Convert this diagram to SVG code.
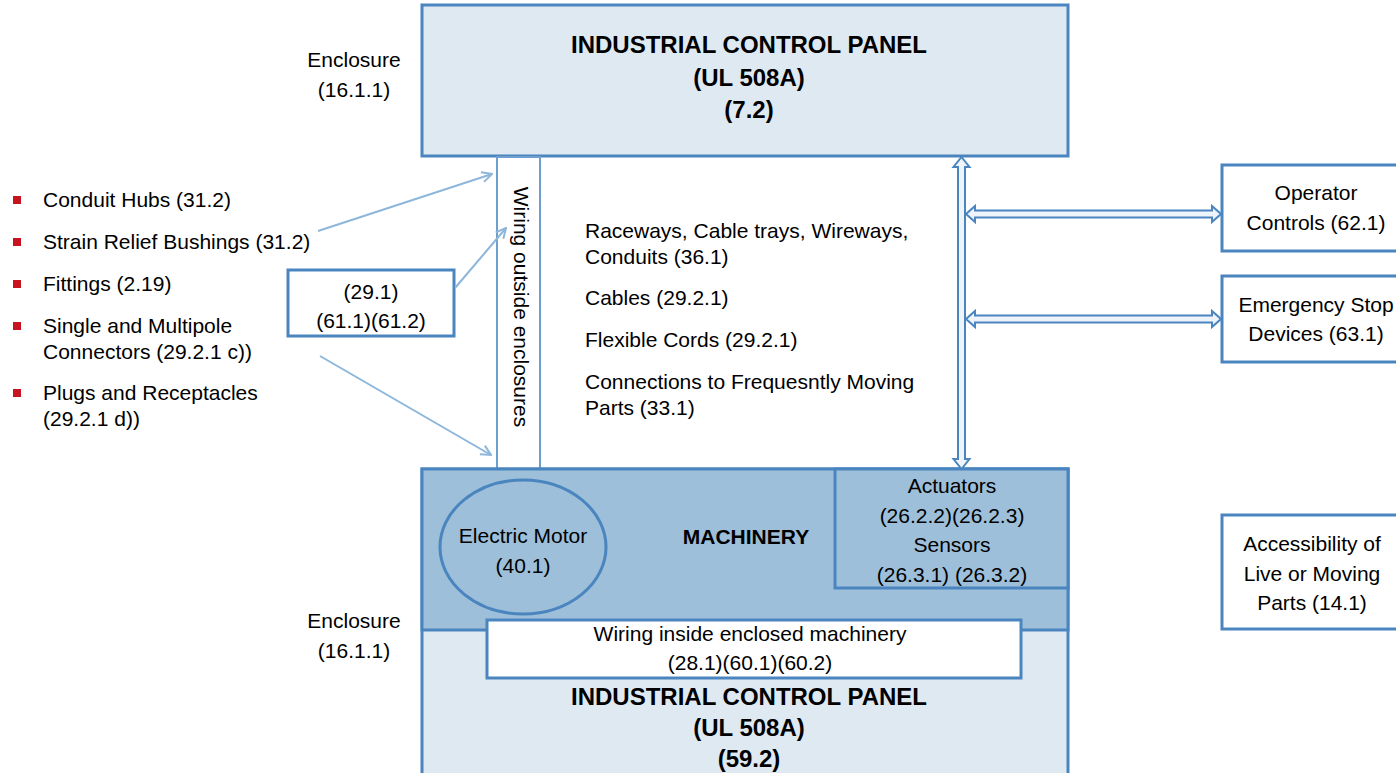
<svg xmlns="http://www.w3.org/2000/svg" width="1396" height="773" viewBox="0 0 1396 773">
<defs>
<style>
text{font-family:"Liberation Sans",Arial,sans-serif;fill:#000;}
.t{font-size:21px;}
.c{text-anchor:middle;}
.b{font-weight:bold;font-size:24px;}
.mb{font-weight:bold;font-size:21px;}
.box{stroke:#4a85bf;stroke-width:3;}
.thin{stroke:#6f9fcf;stroke-width:2;fill:none;}
.arr{stroke:#8db6db;stroke-width:2;fill:none;}
.dbl{fill:#eef4fa;stroke:#4a85bf;stroke-width:2;}
</style>
<marker id="ah" viewBox="0 0 12 12" refX="11" refY="6" markerWidth="12" markerHeight="12" markerUnits="userSpaceOnUse" orient="auto">
<path d="M1,1 L11,6 L1,11" fill="none" stroke="#8db6db" stroke-width="2"/>
</marker>
</defs>
<rect width="1396" height="773" fill="#fff"/>

<g id="top-panel">
<rect x="422" y="5" width="646" height="151" fill="#dfe9f2" class="box"/>
<text class="b c" x="749" y="53">INDUSTRIAL CONTROL PANEL</text>
<text class="b c" x="749" y="86">(UL 508A)</text>
<text class="b c" x="749" y="118">(7.2)</text>
</g>

<g id="enclosure-top">
<text class="t c" x="354" y="67">Enclosure</text>
<text class="t c" x="354" y="97">(16.1.1)</text>
</g>

<g id="bullets">
<rect x="13" y="196" width="8" height="8" fill="#c8141e"/>
<text class="t" x="43" y="207">Conduit Hubs (31.2)</text>
<rect x="13" y="238" width="8" height="8" fill="#c8141e"/>
<text class="t" x="43" y="249">Strain Relief Bushings (31.2)</text>
<rect x="13" y="280" width="8" height="8" fill="#c8141e"/>
<text class="t" x="43" y="291">Fittings (2.19)</text>
<rect x="13" y="322" width="8" height="8" fill="#c8141e"/>
<text class="t" x="43" y="333">Single and Multipole</text>
<text class="t" x="43" y="359">Connectors (29.2.1 c))</text>
<rect x="13" y="389" width="8" height="8" fill="#c8141e"/>
<text class="t" x="43" y="400">Plugs and Receptacles</text>
<text class="t" x="43" y="426">(29.2.1 d))</text>
</g>

<g id="ref-box">
<rect x="288" y="270" width="166" height="66" fill="#fff" class="box"/>
<text class="t c" x="371" y="299">(29.1)</text>
<text class="t c" x="371" y="328">(61.1)(61.2)</text>
</g>

<g id="wiring-outside">
<rect x="497" y="157" width="43" height="312" fill="#fff" class="thin"/>
<text class="t c" transform="translate(514,307) rotate(90)" x="0" y="0">Wiring outside enclosures</text>
</g>

<g id="raceways">
<text class="t" x="585" y="238">Raceways, Cable trays, Wireways,</text>
<text class="t" x="585" y="264">Conduits (36.1)</text>
<text class="t" x="585" y="305">Cables (29.2.1)</text>
<text class="t" x="585" y="347">Flexible Cords (29.2.1)</text>
<text class="t" x="585" y="389">Connections to Frequesntly Moving</text>
<text class="t" x="585" y="415">Parts (33.1)</text>
</g>

<g id="bottom-panel">
<rect x="422" y="469" width="646" height="310" fill="#dfe9f2" class="box"/>
<rect x="422" y="469" width="646" height="161" fill="#9dbfd9" class="box"/>
<text class="b c" x="749" y="705">INDUSTRIAL CONTROL PANEL</text>
<text class="b c" x="749" y="736">(UL 508A)</text>
<text class="b c" x="749" y="767">(59.2)</text>
</g>

<g id="machinery">
<text class="mb c" x="746" y="544">MACHINERY</text>
</g>

<g id="motor">
<ellipse cx="523" cy="547" rx="83" ry="67" fill="#9dbfd9" class="box"/>
<text class="t c" x="523" y="543">Electric Motor</text>
<text class="t c" x="523" y="573">(40.1)</text>
</g>

<g id="actuators">
<rect x="835" y="469" width="233" height="119" fill="#9dbfd9" class="box"/>
<text class="t c" x="952" y="493">Actuators</text>
<text class="t c" x="952" y="523">(26.2.2)(26.2.3)</text>
<text class="t c" x="952" y="552">Sensors</text>
<text class="t c" x="952" y="582">(26.3.1) (26.3.2)</text>
</g>

<g id="wiring-inside">
<rect x="487" y="620" width="534" height="58" fill="#fff" class="box"/>
<text class="t c" x="750" y="641">Wiring inside enclosed machinery</text>
<text class="t c" x="750" y="670">(28.1)(60.1)(60.2)</text>
</g>

<g id="enclosure-bottom">
<text class="t c" x="354" y="628">Enclosure</text>
<text class="t c" x="354" y="658">(16.1.1)</text>
</g>

<g id="operator">
<rect x="1222" y="165" width="190" height="86" fill="#fff" class="box"/>
<text class="t c" x="1316" y="200">Operator</text>
<text class="t c" x="1316" y="230">Controls (62.1)</text>
</g>

<g id="estop">
<rect x="1222" y="276" width="190" height="86" fill="#fff" class="box"/>
<text class="t c" x="1316" y="312">Emergency Stop</text>
<text class="t c" x="1316" y="341">Devices (63.1)</text>
</g>

<g id="accessibility">
<rect x="1222" y="515" width="190" height="114" fill="#fff" class="box"/>
<text class="t c" x="1312" y="551">Accessibility of</text>
<text class="t c" x="1312" y="581">Live or Moving</text>
<text class="t c" x="1312" y="610">Parts (14.1)</text>
</g>

<g id="connectors">
<line class="arr" x1="318" y1="231" x2="492" y2="174" marker-end="url(#ah)"/>
<line class="arr" x1="455" y1="288" x2="506" y2="228" marker-end="url(#ah)"/>
<line class="arr" x1="320" y1="356" x2="491" y2="455" marker-end="url(#ah)"/>
<path class="dbl" d="M961.5,157 L969.5,167 L965,167 L965,459 L969.5,459 L961.5,469 L953.5,459 L958,459 L958,167 L953.5,167 Z"/>
<path class="dbl" d="M966,214 L975,206 L975,210.5 L1212,210.5 L1212,206 L1221,214 L1212,222 L1212,217.5 L975,217.5 L975,222 Z"/>
<path class="dbl" d="M966,319 L975,311 L975,315.5 L1212,315.5 L1212,311 L1221,319 L1212,327 L1212,322.5 L975,322.5 L975,327 Z"/>
</g>
</svg>
